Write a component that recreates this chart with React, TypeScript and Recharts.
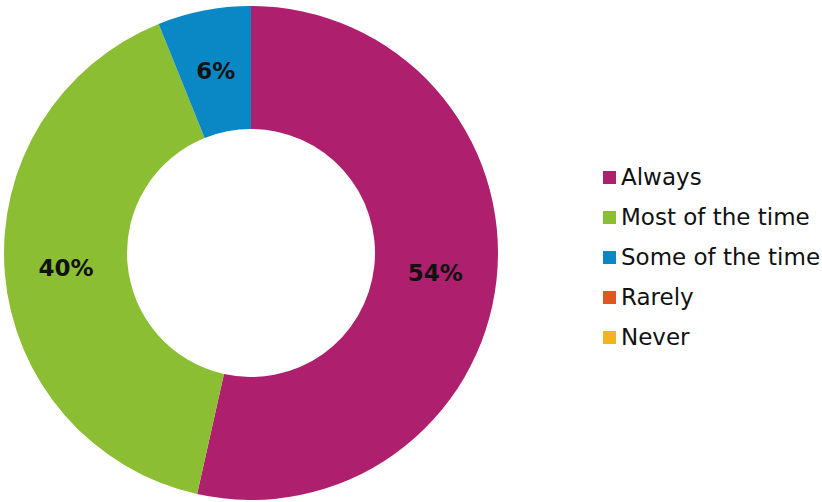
import { Cell, Pie, PieChart } from "recharts";

const categories = ["Always", "Most of the time", "Some of the time", "Rarely", "Never"];
// slice sizes; labels show them rounded
const shares = [53.5, 40.4, 6.1, 0, 0];
const colors = ["#AE1F6E", "#8BBE32", "#0A88C6", "#E0561F", "#F2B41C"];

const data = categories.map((name, i) => ({ name, value: shares[i] }));

const FONT = "'DejaVu Sans', Verdana, sans-serif";

function renderLabel(props: any) {
  const { cx, cy, midAngle, innerRadius, outerRadius, value } = props;
  if (!value) return null;
  const r = (innerRadius + outerRadius) / 2;
  const rad = (Math.PI / 180) * midAngle;
  const x = cx + r * Math.cos(rad);
  const y = cy - r * Math.sin(rad);
  return (
    <text
      x={x}
      y={y}
      textAnchor="middle"
      dominantBaseline="central"
      fill="#111"
      fontFamily={FONT}
      fontWeight="bold"
      fontSize={23}
    >
      {`${Math.round(value)}%`}
    </text>
  );
}

function LegendList() {
  return (
    <ul
      style={{
        position: "absolute",
        left: 603,
        top: 157,
        listStyle: "none",
        margin: 0,
        padding: 0,
        fontFamily: FONT
      }}
    >
      {categories.map((name, i) => (
        <li
          key={name}
          style={{ display: "flex", alignItems: "center", height: 40, fontSize: 23, color: "#111", whiteSpace: "nowrap" }}
        >
          <span
            style={{
              display: "inline-block",
              width: 13,
              height: 13,
              background: colors[i],
              marginRight: 5
            }}
          />
          {name}
        </li>
      ))}
    </ul>
  );
}

export default function App() {
  return (
    <div style={{ position: "absolute", left: 0, top: 0, width: 822, height: 502, background: "#fff" }}>
      <PieChart width={822} height={502} margin={{ top: 0, right: 0, bottom: 0, left: 0 }}>
        <Pie
          data={data}
          dataKey="value"
          nameKey="name"
          cx={251}
          cy={253}
          innerRadius={124}
          outerRadius={247}
          startAngle={90}
          endAngle={-270}
          stroke="none"
          label={renderLabel}
          labelLine={false}
          isAnimationActive={false}
        >
          {data.map((d, i) => (
            <Cell key={d.name} fill={colors[i]} />
          ))}
        </Pie>
      </PieChart>
      <LegendList />
    </div>
  );
}
